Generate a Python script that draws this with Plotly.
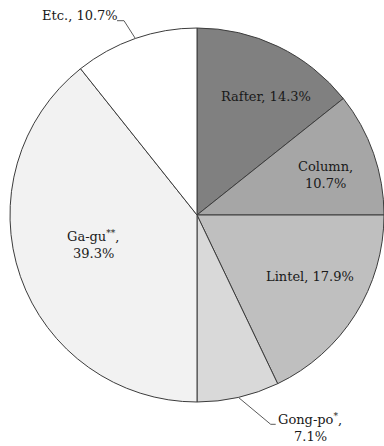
import math
import plotly.graph_objects as go

# ---- data ----
categories = ["Rafter", "Column", "Lintel", "Gong-po", "Ga-gu", "Etc."]
shares = [14.3, 10.7, 17.9, 7.1, 39.3, 10.7]
markers = ["", "", "", "*", "**", ""]          # superscript marks after names
two_line = [False, True, False, True, True, False]
outside = [False, False, False, True, False, True]

# ---- styles ----
colors = ["#808080", "#a6a6a6", "#bfbfbf", "#d9d9d9", "#f2f2f2", "#ffffff"]
label_centers = [(266, 97), (325, 175), (310, 276), (310, 428), (93, 245), (80, 15)]
elbows = {3: [(270.7, 424.3), (275.7, 424.3)], 5: [(124, 20.7), (117, 20.7)]}
FONT = "DejaVu Serif"
FS = 13
LINE_GAP = 17.5

W, H = 384, 446
L, R, T, B = 10, 0, 28, 44
PW, PH = W - L - R, H - T - B
cx, cy = L + PW / 2, T + PH / 2
rad = min(PW, PH) / 2


def px(x):
    return (x - L) / PW


def py(y):
    return 1 - (y - T) / PH


fig = go.Figure(go.Pie(
    labels=categories,
    values=shares,
    sort=False,
    direction="clockwise",
    rotation=0,
    marker=dict(colors=colors, line=dict(color="#3c3c3c", width=1)),
    textinfo="none",
    hoverinfo="label+percent",
    showlegend=False,
    domain=dict(x=[0, 1], y=[0, 1]),
))

annotations = []
shapes = []
total = sum(shares)
cum = 0.0
for i, (cat, v) in enumerate(zip(categories, shares)):
    mid = (cum + v / 2) / total * 2 * math.pi
    cum += v
    name = cat + (f"<sup>{markers[i]}</sup>" if markers[i] else "") + ","
    lines = [name, f"{v}%"] if two_line[i] else [f"{name} {v}%"]
    xc, yc = label_centers[i]
    n = len(lines)
    for j, txt in enumerate(lines):
        yy = yc + (j - (n - 1) / 2) * LINE_GAP
        annotations.append(dict(
            x=px(xc), y=py(yy), xref="paper", yref="paper",
            text=txt, showarrow=False, xanchor="center", yanchor="middle",
            font=dict(family=FONT, size=FS, color="#1a1a1a"),
        ))
    if outside[i]:
        sx = cx + rad * math.sin(mid)
        sy = cy - rad * math.cos(mid)
        pts = [(sx, sy)] + elbows[i]
        for (x0, y0), (x1, y1) in zip(pts[:-1], pts[1:]):
            shapes.append(dict(
                type="line", xref="paper", yref="paper",
                x0=px(x0), y0=py(y0), x1=px(x1), y1=py(y1),
                line=dict(color="#5a5a5a", width=1),
            ))

fig.update_layout(
    width=W, height=H,
    margin=dict(l=L, r=R, t=T, b=B, pad=0),
    paper_bgcolor="white",
    plot_bgcolor="white",
    font=dict(family=FONT, size=FS, color="#1a1a1a"),
    annotations=annotations,
    shapes=shapes,
    showlegend=False,
)

fig.write_html("out.html")
